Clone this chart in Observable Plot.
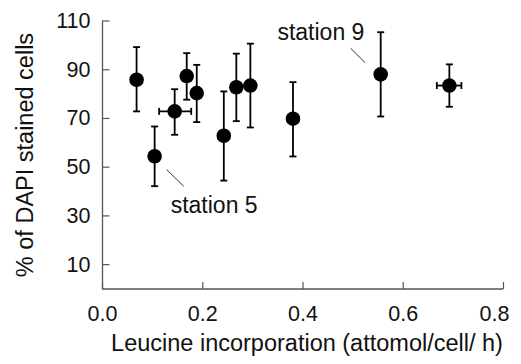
<!DOCTYPE html>
<html>
<head>
<meta charset="utf-8">
<script src="https://cdn.jsdelivr.net/npm/d3@7"></script>
<script src="https://cdn.jsdelivr.net/npm/@observablehq/plot@0.6"></script>
<style>
  html, body { margin: 0; padding: 0; background: #fff; }
  #chart svg { display: block; font-family: "Liberation Sans", Arial, Helvetica, sans-serif; }
</style>
</head>
<body>
<div id="chart"></div>
<script>
// Leucine incorporation (attomol/cell/h)
const leucine   = [0.068, 0.104, 0.144, 0.168, 0.188, 0.242, 0.267, 0.295, 0.380, 0.555, 0.692];
const leucineLo = [null,  null,  0.113, null,  null,  null,  null,  null,  null,  0.545, 0.667];
const leucineHi = [null,  null,  0.177, null,  null,  null,  null,  null,  null,  0.565, 0.716];
// % of DAPI stained cells
const dapi      = [85.9, 54.5, 72.9, 87.4, 80.4, 62.9, 82.8, 83.5, 69.9, 88.1, 83.5];
const dapiHi    = [99.3, 66.7, 82.0, 96.8, 92.0, 81.1, 96.6, 100.7, 84.9, 105.4, 92.2];
const dapiLo    = [72.9, 42.2, 63.3, 77.7, 68.5, 44.5, 68.9, 66.3, 54.4, 70.8, 74.8];

const xTicks = [0, 0.2, 0.4, 0.6, 0.8];
const yTicks = [10, 30, 50, 70, 90, 110];

const annotLabels = ["station 5", "station 9"];
const annotTextX  = [0.136, 0.349];
const annotTextY  = [34.4, 105.1];
const leaderX1    = [0.128, 0.495];
const leaderY1    = [49.0, 98.8];
const leaderX2    = [0.162, 0.524];
const leaderY2    = [42.2, 92.9];

const points = leucine.map((x, i) => ({x, y: dapi[i], lo: dapiLo[i], hi: dapiHi[i], xlo: leucineLo[i], xhi: leucineHi[i]}));
const xErr = points.filter(d => d.xlo != null);
const annots = annotLabels.map((t, i) => ({t, x: annotTextX[i], y: annotTextY[i], x1: leaderX1[i], y1: leaderY1[i], x2: leaderX2[i], y2: leaderY2[i]}));

// custom symbols
const hCap = {draw(ctx) { ctx.moveTo(-3.5, 0); ctx.lineTo(3.5, 0); }};
const vCap = {draw(ctx) { ctx.moveTo(0, -3.5); ctx.lineTo(0, 3.5); }};
const xTickSym = {draw(ctx) { ctx.moveTo(0, 0); ctx.lineTo(0, -7); }};
const yTickSym = {draw(ctx) { ctx.moveTo(0, 0); ctx.lineTo(7, 0); }};

const axisColor = "#555";
const fmt = d3.format(".1f");

const chart = Plot.plot({
  width: 521,
  height: 364,
  marginLeft: 102,
  marginRight: 18,
  marginTop: 20.5,
  marginBottom: 75.5,
  style: {fontFamily: "'Liberation Sans', Arial, Helvetica, sans-serif", fontSize: "21px", color: "#111"},
  x: {domain: [0, 0.8]},
  y: {domain: [0, 110]},
  marks: [
    // axis lines
    Plot.ruleX([0], {stroke: axisColor, strokeWidth: 1.3}),
    Plot.ruleY([0], {stroke: axisColor, strokeWidth: 1.3}),
    // inward ticks
    Plot.dot(xTicks, {x: d => d, y: 0, symbol: xTickSym, stroke: axisColor, strokeWidth: 1.2, fill: "none"}),
    Plot.dot(yTicks, {x: 0, y: d => d, symbol: yTickSym, stroke: axisColor, strokeWidth: 1.2, fill: "none"}),
    // tick labels
    Plot.axisX(xTicks.slice(0, -1), {tickSize: 0, tickPadding: 17, tickFormat: fmt, label: null, fontSize: 21.5}),
    Plot.axisX(xTicks.slice(-1), {tickSize: 0, tickPadding: 17, tickFormat: fmt, label: null, fontSize: 21.5, dx: -9}),
    Plot.axisY(yTicks, {tickSize: 0, tickPadding: 12, label: null, fontSize: 21.5}),
    // axis titles
    Plot.text(["Leucine incorporation (attomol/cell/ h)"], {frameAnchor: "bottom", lineAnchor: "middle", textAnchor: "middle", dx: 4, dy: 54.5, fontSize: 23.5, fill: "#111"}),
    Plot.text(["% of DAPI stained cells"], {frameAnchor: "left", lineAnchor: "middle", textAnchor: "middle", dx: -77, rotate: -90, fontSize: 23.5, fill: "#111"}),
    // error bars
    Plot.link(points, {x1: "x", x2: "x", y1: "lo", y2: "hi", stroke: "#000", strokeWidth: 1.8}),
    Plot.dot(points, {x: "x", y: "lo", symbol: hCap, stroke: "#000", strokeWidth: 1.8, fill: "none"}),
    Plot.dot(points, {x: "x", y: "hi", symbol: hCap, stroke: "#000", strokeWidth: 1.8, fill: "none"}),
    Plot.link(xErr, {x1: "xlo", x2: "xhi", y1: "y", y2: "y", stroke: "#000", strokeWidth: 1.8}),
    Plot.dot(xErr, {x: "xlo", y: "y", symbol: vCap, stroke: "#000", strokeWidth: 1.8, fill: "none"}),
    Plot.dot(xErr, {x: "xhi", y: "y", symbol: vCap, stroke: "#000", strokeWidth: 1.8, fill: "none"}),
    // points
    Plot.dot(points, {x: "x", y: "y", r: 7.3, fill: "#000", stroke: "none"}),
    // annotations
    Plot.link(annots, {x1: "x1", y1: "y1", x2: "x2", y2: "y2", stroke: "#333", strokeWidth: 1}),
    Plot.text(annots, {x: "x", y: "y", text: "t", textAnchor: "start", lineAnchor: "middle", fontSize: 23, fill: "#111"})
  ]
});
document.getElementById("chart").appendChild(chart);
</script>
</body>
</html>
